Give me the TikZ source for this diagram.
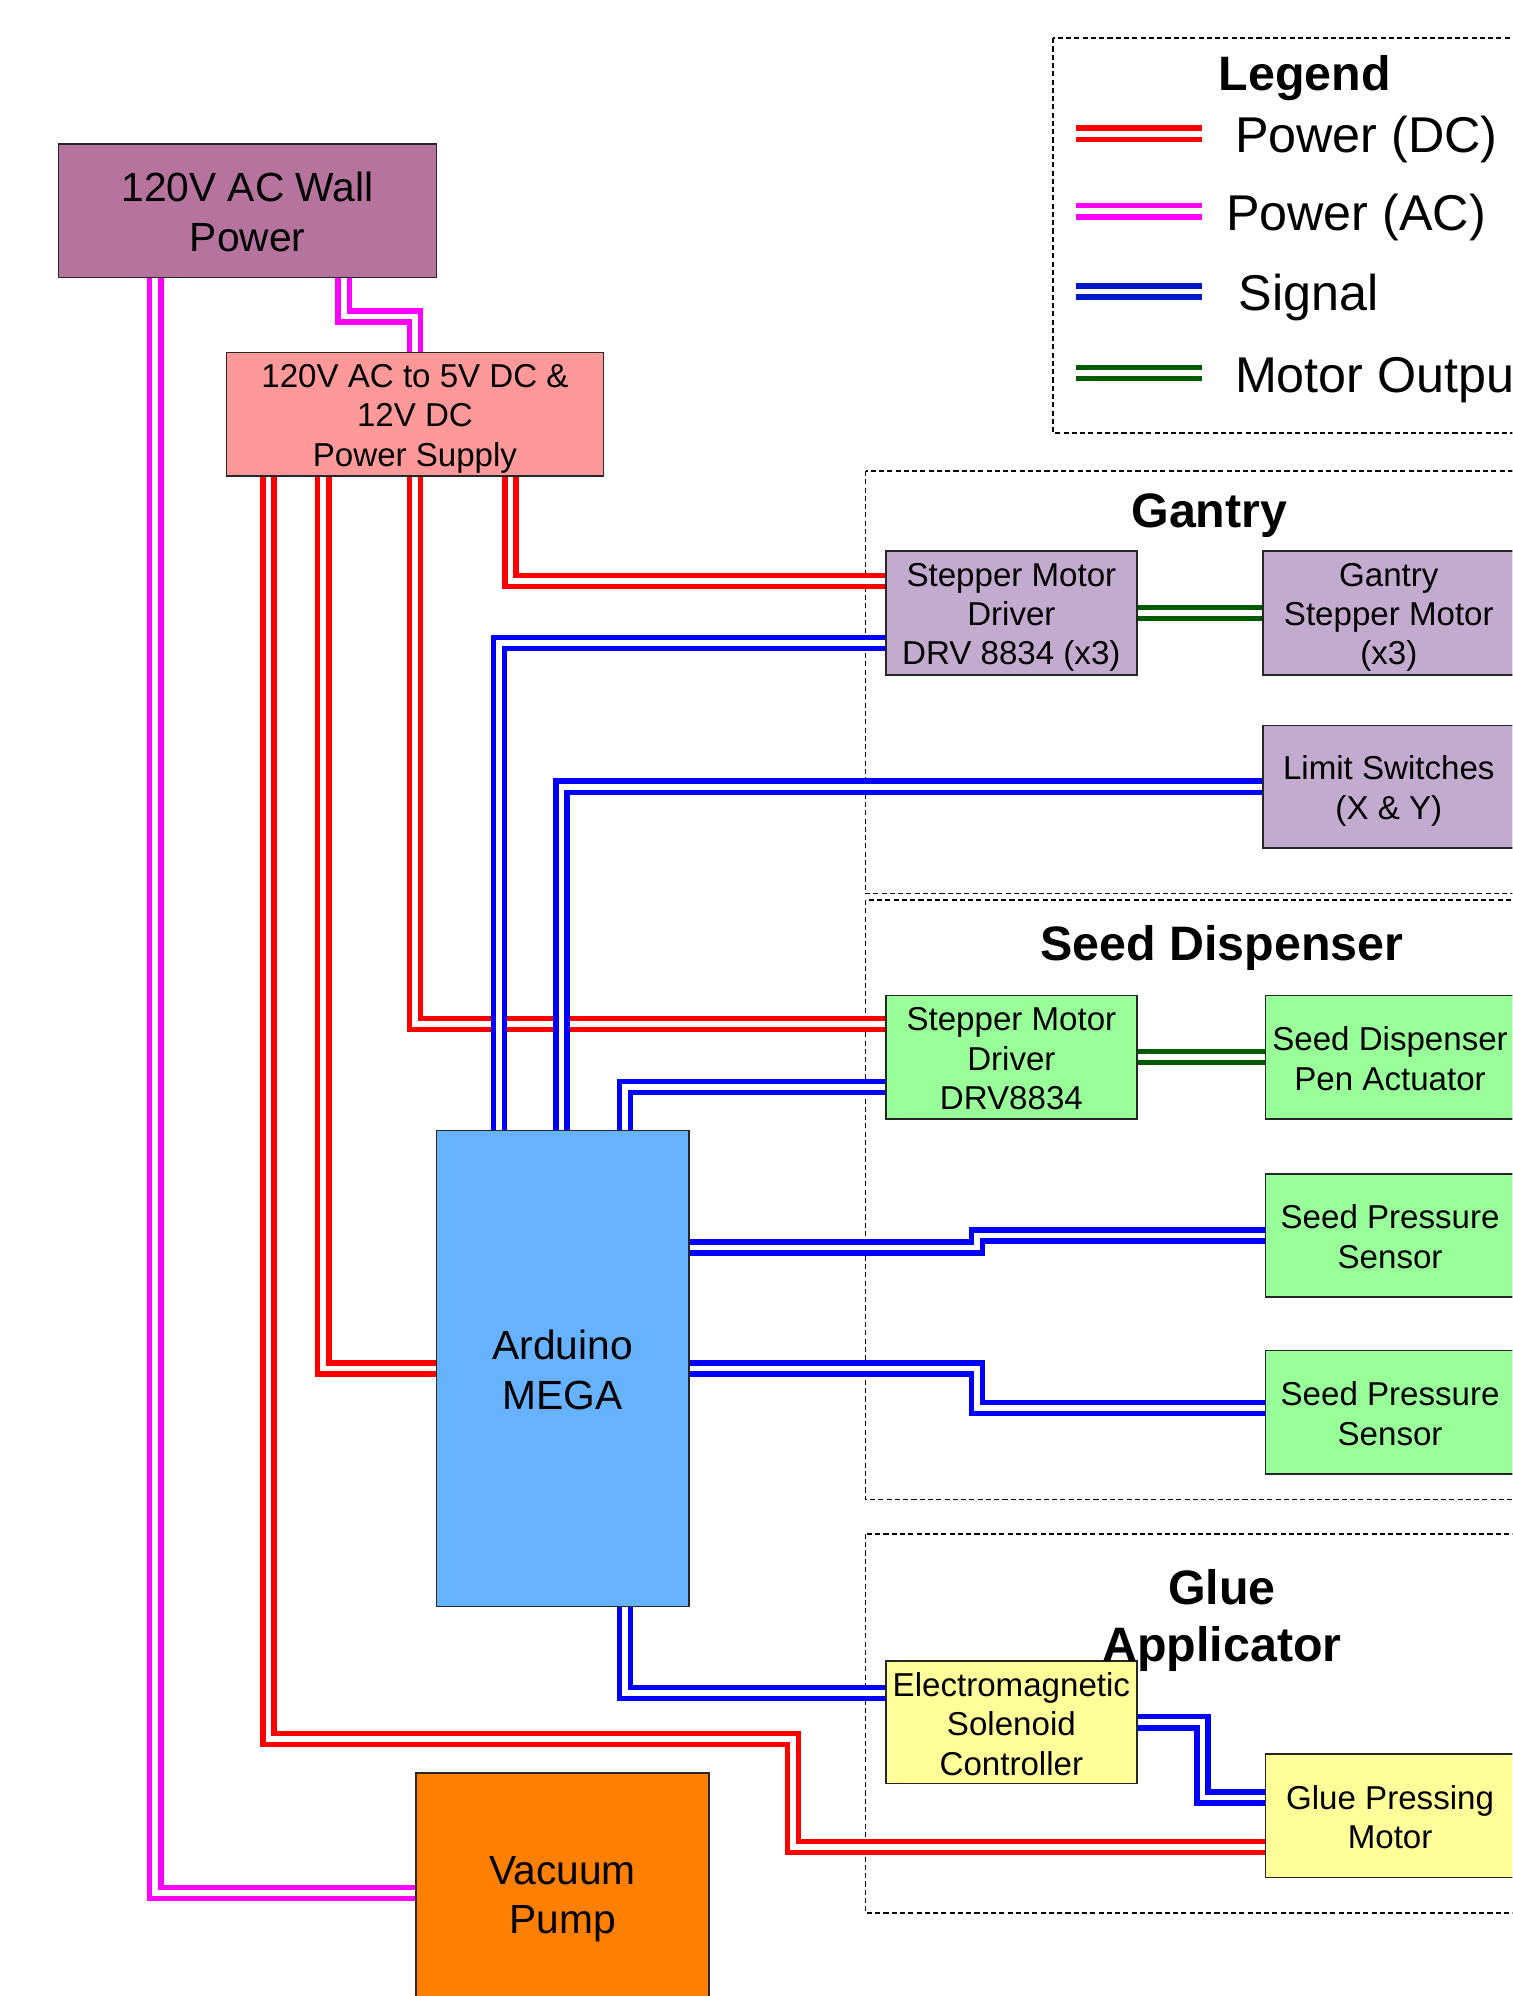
\documentclass[tikz,border=0pt]{standalone}
\usepackage{fontspec}
\setmainfont{Liberation Sans}
\usetikzlibrary{positioning}

\definecolor{wallcol}{HTML}{B5739D}
\definecolor{psucol}{HTML}{FF9999}
\definecolor{gantcol}{HTML}{C3ABD0}
\definecolor{seedcol}{HTML}{99FF99}
\definecolor{gluecol}{HTML}{FFFF99}
\definecolor{ardcol}{HTML}{66B2FF}
\definecolor{vaccol}{HTML}{FF8000}
\definecolor{dccol}{HTML}{FF0000}
\definecolor{accol}{HTML}{FF00FF}
\definecolor{sigcol}{HTML}{0000FF}
\definecolor{sigdark}{HTML}{0019C8}
\definecolor{motcol}{HTML}{005A00}

\tikzset{
  blk/.style={draw=black!85,line width=1.3,rectangle,inner sep=0},
  lbl/.style={align=center,inner sep=0,yshift=-3.5,
    font=\fontsize{26}{31}\selectfont,
    execute at end node={\rule[-5pt]{0pt}{5pt}}},
  biglbl/.style={align=center,inner sep=0,yshift=-4,
    font=\fontsize{32}{39}\selectfont,
    execute at end node={\rule[-6pt]{0pt}{6pt}}},
  txt/.style={label={[lbl]center:{#1}}},
  bigtxt/.style={label={[biglbl]center:{#1}}},
  wire/.style={line width=4.2,double=white,double distance=4.5},
  dcwire/.style={wire,draw=dccol},
  acwire/.style={wire,draw=accol},
  sigwire/.style={wire,draw=sigcol},
  motwire/.style={wire,draw=motcol},
  group/.style={draw=black,line width=1.3,dash pattern=on 4 off 2.5},
  grouptitle/.style={font=\fontsize{38}{45}\selectfont\bfseries,align=center},
}

\begin{document}
\begin{tikzpicture}[x=1pt,y=-1pt]
\useasboundingbox (0,0) rectangle (1188,1568);
\clip (0,0) rectangle (1188,1568);

% groups
\draw[group] (827,30) rectangle (1210,340);
\draw[group] (680,370) rectangle (1210,702);
\draw[group] (680,707) rectangle (1210,1178);
\draw[group] (680,1205) rectangle (1210,1503);

% legend
\node[grouptitle] (legtitle) at (1025,61) {Legend};
\foreach \col/\y/\x/\txt in {dccol/105/970/Power (DC),accol/166/963/Power (AC),sigdark/229/973/Signal,motcol/293/970/Motor Output}{
\draw[wire,draw=\col] (845,\y) -- (944,\y);
\node[anchor=base west,font=\fontsize{39.5}{45}\selectfont,inner sep=0] at (\x,\y+15) {\txt};}

% power
\node[blk,fill=wallcol,minimum width=297,minimum height=105,bigtxt={120V AC Wall\\Power}] (wall) at (194.5,165.5) {};
\node[blk,fill=psucol,minimum width=296,minimum height=97,txt={120V AC to 5V DC \&\\12V DC\\Power Supply}] (psu) at (326,325.5) {};

% gantry
\node[blk,fill=gantcol,minimum width=197,minimum height=97,txt={Stepper Motor\\Driver\\DRV 8834 (x3)}] (gdrv) at (794.5,481.5) {};
\node[blk,fill=gantcol,minimum width=198,minimum height=97,txt={Gantry\\Stepper Motor\\(x3)}] (gmot) at (1091,481.5) {};
\node[blk,fill=gantcol,minimum width=198,minimum height=96,txt={Limit Switches\\(X \& Y)}] (lim) at (1091,618) {};

% seed dispenser
\node[blk,fill=seedcol,minimum width=197,minimum height=97,txt={Stepper Motor\\Driver\\DRV8834}] (sdrv) at (794.5,830.5) {};
\node[blk,fill=seedcol,minimum width=196,minimum height=97,txt={Seed Dispenser\\Pen Actuator}] (pen) at (1092,830.5) {};
\node[blk,fill=seedcol,minimum width=196,minimum height=97,txt={Seed Pressure\\Sensor}] (spA) at (1092,970.5) {};
\node[blk,fill=seedcol,minimum width=196,minimum height=97,txt={Seed Pressure\\Sensor}] (spB) at (1092,1109.5) {};

% glue applicator
\node[blk,fill=gluecol,minimum width=197,minimum height=96,txt={Electromagnetic\\Solenoid\\Controller}] (sol) at (794.5,1353) {};
\node[blk,fill=gluecol,minimum width=196,minimum height=97,txt={Glue Pressing\\Motor}] (gpm) at (1092,1426.5) {};

% controller and pump
\node[blk,fill=ardcol,minimum width=198,minimum height=374,bigtxt={Arduino\\MEGA}] (ard) at (442,1075) {};
\node[blk,fill=vaccol,minimum width=230,minimum height=190,bigtxt={Vacuum\\Pump}] (vac) at (442,1488) {};

% AC
\draw[acwire] ([xshift=-72.5]wall.south) |- ([yshift=1]vac.west);
\draw[acwire] ([xshift=75.5]wall.south) -- ++(0,30) -| (psu.north);

% DC
\coordinate (gbend) at (623,1366);
\draw[dcwire] ([xshift=75]psu.south) |- ([yshift=-24]gdrv.north west);
\draw[dcwire] (psu.south) |- ([yshift=-23]sdrv.north west);
\draw[dcwire] ([xshift=-72]psu.south) |- (ard.west);
\draw[dcwire] ([xshift=-115]psu.south) |- (gbend) |- ([yshift=-24.5]gpm.west);

% signal
\draw[sigwire] ([yshift=-23.5]gdrv.west) -| ([xshift=-50]ard.north);
\draw[sigwire] (lim.west) -| ([xshift=-1]ard.north);
\draw[sigwire] ([yshift=-23.5]sdrv.west) -| ([xshift=49]ard.north);
\draw[sigwire] ([yshift=95]ard.east) -- ++(226,0) |- (spA.west);
\draw[sigwire] (ard.east) -- ++(226,0) |- ([yshift=3.5]spB.west);
\draw[sigwire] ([xshift=49]ard.south) |- ([yshift=23]sol.west);
\draw[sigwire] (sol.east) -- ++(51,0) |- ([yshift=14.5]gpm.west);

% motor output
\draw[motwire] (gdrv.east) -- (gmot.west);
\draw[motwire] (sdrv.east) -- (pen.west);

% titles
\node[grouptitle] (gtitle) at (950,405) {Gantry};
\node[grouptitle] (stitle) at (960,745) {Seed Dispenser};
\node[grouptitle] (atitle) at (960,1273) {Glue\\Applicator};
\end{tikzpicture}
\end{document}
